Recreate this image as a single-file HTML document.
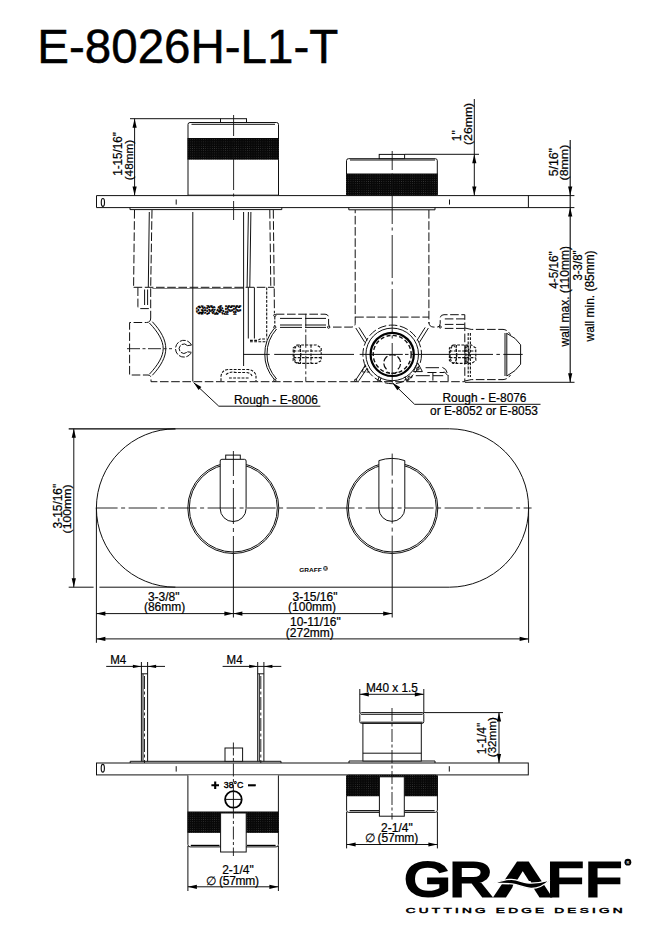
<!DOCTYPE html>
<html lang="en">
<head>
<meta charset="utf-8">
<title>E-8026H-L1-T</title>
<style>
html,body{margin:0;padding:0;background:#fff;}
body{width:657px;height:943px;overflow:hidden;font-family:"Liberation Sans",sans-serif;}
svg{display:block;}
.l{stroke:#111;stroke-width:1;fill:none;}
.k{stroke:#000;stroke-width:1.2;fill:none;}
.w{stroke:#111;stroke-width:1;fill:#fff;}
.d{stroke:#111;stroke-width:1;fill:none;stroke-dasharray:8.6 2.6;}
.ds{stroke:#111;stroke-width:1.1;fill:none;stroke-dasharray:2.8 1.4;}
.c{stroke:#111;stroke-width:.9;fill:none;stroke-dasharray:13 2.5 3 2.5;}
.b{fill:url(#kn);stroke:none;}
.ar{fill:#000;stroke:none;}
.t{font-family:"Liberation Sans",sans-serif;fill:#000;stroke:#000;stroke-width:.22;}
.dl{stroke:#111;stroke-width:1;fill:none;stroke-dasharray:22 3;}
.c2{stroke:#111;stroke-width:.9;fill:none;stroke-dasharray:28.5 3.5 4 3.5;}
.c3{stroke:#111;stroke-width:.9;fill:none;stroke-dasharray:43 3.5 3 4.5;}
.tb{font-family:"Liberation Sans",sans-serif;fill:#000;font-weight:bold;}
</style>
</head>
<body>
<svg width="657" height="943" viewBox="0 0 657 943">
<defs><pattern id="kn" width="2.2" height="2.2" patternUnits="userSpaceOnUse"><rect width="2.2" height="2.2" fill="#080808"/><circle cx="1.1" cy="1.1" r=".38" fill="#444"/></pattern></defs>
<rect x="0" y="0" width="657" height="943" fill="#fff"/>
<!-- title -->
<text class="t" font-size="48.4" text-anchor="start" x="37.3" y="62.9" textLength="301" lengthAdjust="spacingAndGlyphs" style="stroke-width:.5">E-8026H-L1-T</text>
<!-- side elevation with rough-in valves -->
<g id="elevation">
<path class="w" d="M574.4 195.6H96.5V207.6H574.4"/>
<line class="l" x1="528.4" y1="195.6" x2="528.4" y2="207.6" />
<ellipse class="l" cx="102.9" cy="202.4" rx="1.6" ry="3.9" style="stroke-width:1.15"/>
<line class="l" x1="176.2" y1="199.5" x2="176.2" y2="204.6" />
<line class="l" x1="449.5" y1="199.5" x2="449.5" y2="204.6" />
<path class="w" d="M188 195.2V124.5Q188 122.5 190 122.5H276.5Q278.5 122.5 278.5 124.5V195.2Z"/>
<line class="l" x1="191.5" y1="124.3" x2="275" y2="124.3" />
<rect class="b" x="187.5" y="138" width="91.5" height="21.7"/>
<rect class="w" x="220.5" y="118.7" width="26" height="3.8"/>
<line class="l" x1="130" y1="118.7" x2="220.5" y2="118.7" />
<line class="l" x1="134.6" y1="118.7" x2="134.6" y2="195.6" />
<polygon class="ar" points="134.60,118.70 132.50,127.70 136.70,127.70"/>
<polygon class="ar" points="134.60,195.60 132.50,186.60 136.70,186.60"/>
<text class="t" font-size="12" text-anchor="start" transform="translate(121.7 175.8) rotate(-90)" textLength="43.6" lengthAdjust="spacingAndGlyphs">1-15/16"</text>
<text class="t" font-size="11.2" text-anchor="start" transform="translate(132.5 180.3) rotate(-90)" textLength="40.4" lengthAdjust="spacingAndGlyphs">(48mm)</text>
<line class="c3" x1="233.6" y1="115" x2="233.6" y2="220" stroke-dashoffset="22"/>
<path class="w" d="M346.5 195.2V160.7Q346.5 158.7 348.5 158.7H435.3Q437.3 158.7 437.3 160.7V195.2Z"/>
<path class="b" d="M346.1 173.5H437.7V193.2Q437.7 195.4 435.7 195.4H348.1Q346.1 195.4 346.1 193.2Z"/>
<line class="l" x1="350" y1="160" x2="435" y2="160" />
<rect class="w" x="379.2" y="154.4" width="25.4" height="4.2"/>
<line class="l" x1="405" y1="154.3" x2="479" y2="154.3" />
<line class="l" x1="474.3" y1="99" x2="474.3" y2="195.6" />
<polygon class="ar" points="474.30,154.30 472.20,163.30 476.40,163.30"/>
<polygon class="ar" points="474.30,195.60 472.20,186.60 476.40,186.60"/>
<text class="t" font-size="12" text-anchor="start" transform="translate(461.4 141.2) rotate(-90)" >1"</text>
<text class="t" font-size="11.2" text-anchor="start" transform="translate(471.7 145) rotate(-90)" textLength="42.2" lengthAdjust="spacingAndGlyphs">(26mm)</text>
<line class="l" x1="570.2" y1="140" x2="570.2" y2="382.3" style="stroke-width:1.15"/>
<polygon class="ar" points="570.20,195.60 568.10,186.60 572.30,186.60"/>
<polygon class="ar" points="570.20,207.60 568.10,216.60 572.30,216.60"/>
<polygon class="ar" points="570.20,382.30 568.10,373.30 572.30,373.30"/>
<text class="t" font-size="12" text-anchor="start" transform="translate(557.8 176.3) rotate(-90)" textLength="28.2" lengthAdjust="spacingAndGlyphs">5/16"</text>
<text class="t" font-size="11.2" text-anchor="start" transform="translate(567.7 180.5) rotate(-90)" textLength="35.8" lengthAdjust="spacingAndGlyphs">(8mm)</text>
<text class="t" font-size="12" text-anchor="start" transform="translate(557.7 288.8) rotate(-90)" textLength="37.6" lengthAdjust="spacingAndGlyphs">4-5/16"</text>
<text class="t" font-size="12" text-anchor="start" transform="translate(569.0 346.4) rotate(-90)" textLength="100.3" lengthAdjust="spacingAndGlyphs">wall max. (110mm)</text>
<text class="t" font-size="12" text-anchor="start" transform="translate(581.7 280.6) rotate(-90)" textLength="30.2" lengthAdjust="spacingAndGlyphs">3-3/8"</text>
<text class="t" font-size="12" text-anchor="start" transform="translate(593.7 341.4) rotate(-90)" textLength="91" lengthAdjust="spacingAndGlyphs">wall min. (85mm)</text>
<line class="l" x1="465" y1="382.3" x2="574.5" y2="382.3" />
<line class="l" x1="130" y1="209.6" x2="281.8" y2="209.6" />
<line class="l" x1="130" y1="207.6" x2="130" y2="209.6" />
<line class="l" x1="281.8" y1="207.6" x2="281.8" y2="209.6" />
<line class="l" x1="348.8" y1="209.8" x2="435" y2="209.8" />
<line class="l" x1="348.8" y1="207.6" x2="348.8" y2="209.8" />
<line class="l" x1="435" y1="207.6" x2="435" y2="209.8" />
<line class="d" x1="134.5" y1="210" x2="133.6" y2="287.3" />
<path class="d" d="M152 210L150.7 287.3V318"/>
<line class="d" x1="269.8" y1="210" x2="270.8" y2="287.3" />
<path class="d" d="M273.3 210L274.2 287.3L274.4 313.2"/>
<line class="d" x1="133.6" y1="287.3" x2="274.2" y2="287.3" />
<line class="l" x1="152.4" y1="288.5" x2="243.4" y2="288.5" style="stroke-width:.7;stroke:#444"/>
<line class="l" x1="149.3" y1="212" x2="148.3" y2="287" />
<line class="l" x1="192.8" y1="212" x2="192.8" y2="381.5" />
<line class="l" x1="243.6" y1="212" x2="243.6" y2="366" />
<line class="l" x1="248.4" y1="212" x2="247.1" y2="287" />
<line class="l" x1="250.9" y1="212" x2="249.8" y2="287" />
<line class="l" x1="248.3" y1="287.4" x2="248.3" y2="338.5" />
<line class="l" x1="254.4" y1="287.4" x2="254.4" y2="338.5" />
<line class="ds" x1="266.7" y1="287.4" x2="266.7" y2="338" />
<path class="ds" d="M250 340.4H258L260 339H267.4"/>
<path class="ds" d="M250 341.8H267"/>
<path class="d" d="M137.9 287.4V306.6Q137.9 308.6 139.9 308.6H150.6"/>
<line class="l" x1="144.6" y1="289.5" x2="144.6" y2="305" />
<line class="l" x1="147.6" y1="289.5" x2="147.6" y2="305" />
<path class="d" d="M150.7 318Q150.7 322.5 146.5 322.5H129.6V375H148Q151 375 151 378.5V381.7H465"/>
<path class="l" d="M152.3 321.7C161 331 165.8 340 165.8 348.6C165.8 357 161 366 152.3 375.3"/>
<path class="l" d="M149.4 323C158 332 163.2 340.5 163.2 348.6C163.2 356.5 158 365 149.4 374.2"/>
<line class="c" x1="127" y1="348.7" x2="172" y2="348.7" />
<path class="d" d="M191.5 345.1A8.4 8.4 0 1 0 191.5 352.3" style="stroke-dasharray:6 1.6"/>
<path class="d" d="M187.4 345.6A4.7 4.7 0 1 0 187.4 351.8" style="stroke-dasharray:6 1.6"/>
<path class="l" d="M191.5 345.1L187.4 345.6M191.5 352.3L187.4 351.8"/>
<text x="196" y="314.4" font-size="11.5" font-weight="bold" textLength="45" lengthAdjust="spacingAndGlyphs" style="font-family:'Liberation Sans',sans-serif;fill:none;stroke:#000;stroke-width:1.3;stroke-dasharray:2.2 .7">GRAFF</text>
<path class="ds" d="M221 381V376Q222 370 228 369.5H248Q254 370 256 375V381"/>
<path class="ds" d="M226 374.5Q230 371 236 372.5H246Q251 373 252 376"/>
<path class="ds" d="M229 378H250"/>
<path class="d" d="M275.8 314.2H325Q328.6 314.2 328.6 318V324Q328.6 327.1 332 327.1H351Q355.2 327.1 355.2 323.5V210"/>
<path class="dl" d="M280 318.4H326"/><path class="dl" d="M280 325H326"/><path class="dl" d="M280 327.4H326"/>
<circle class="l" cx="274.8" cy="315.4" r="1.1"/>
<circle class="l" cx="274.8" cy="327.2" r="1.1"/>
<circle class="l" cx="328.6" cy="327.2" r="1.1"/>
<circle class="l" cx="274.8" cy="380.3" r="1.1"/>
<circle class="l" cx="355.6" cy="380.3" r="1.1"/>
<line class="ds" x1="274.8" y1="316.6" x2="274.8" y2="326" />
<path class="l" d="M274.2 328.4Q264.6 340 264.8 354.3Q264.6 368 274.2 379.4"/>
<path class="l" d="M276.6 329Q266.8 340 267 354.3Q266.8 368 276.6 379"/>
<line class="c" x1="305.8" y1="313.8" x2="305.8" y2="381.4" />
<path class="l" d="M243.4 354.4H269.7M274.2 354.4H354M359.7 354.4H402.8M405 354.4H408.5M410.8 354.4H493M496.4 354.4H499.9M503.3 354.4H522.7"/>
<path class="ds" d="M297 345H316.5L321.2 348V360.6L316.5 363.4H297L293.2 360.6V348Z"/>
<path class="ds" d="M293.5 351H321M293.5 357.6H321M300.5 345V363.4M311 345V363.4"/>
<ellipse class="ds" cx="297.4" cy="354.3" rx="3.4" ry="8.6"/>
<line class="d" x1="428.9" y1="210" x2="428.9" y2="323.5" />
<line class="d" x1="355.2" y1="317.1" x2="428.9" y2="317.1" />
<line class="c3" x1="392.2" y1="151" x2="392.2" y2="382.3" stroke-dashoffset="24"/>
<circle class="d" cx="392.2" cy="354.4" r="29.3"/>
<circle class="l" cx="392.2" cy="354.4" r="26.3"/>
<circle cx="392.2" cy="354.4" r="21.6" fill="none" stroke="#000" stroke-width="2.2"/>
<circle cx="392.2" cy="354.4" r="19" fill="none" stroke="#111" stroke-width="1.4" stroke-dasharray="4 2.4"/>
<path class="d" d="M386.5 369.3A8.4 8.4 0 1 1 397.9 369.3" style="stroke-width:1.25;stroke-dasharray:6.5 2"/>
<path class="ds" d="M387 372Q392.2 374.5 397.4 372"/>
<path class="l" d="M355.8 328L364.8 342.4"/>
<path class="l" d="M359.0 327.4L367.2 340.4"/>
<path class="l" d="M428.4 328L419.4 342.4"/>
<path class="l" d="M425.2 327.4L417.0 340.4"/>
<path class="l" d="M355.6 380.2L364.8 366.2"/>
<path class="l" d="M358.8 380.8L367.2 368.2"/>
<path class="ds" d="M404.4 380.4L411 374.6M407.2 381L412.8 376.2"/>
<path class="l" d="M377.6 381.4L379.2 376.4M380 381.4L381 377.6M406.6 381.4L405.2 376.6"/>
<path class="d" d="M428.9 322Q428.9 327.1 434 327.1H437Q440.2 327.1 440.2 323.5V318.5Q440.2 314.7 444 314.7H464.8V381.4"/>
<path class="d" d="M444.8 318.9H464.6"/><path class="d" d="M444.8 324.4H464.6"/><path class="d" d="M444.8 328.4H464.6"/>
<circle class="l" cx="440.2" cy="327" r="1.1"/>
<path class="d" d="M464.8 328L471.2 329.4H503Q507.6 329.6 510.5 334.8"/>
<path class="d" d="M464.8 381L471.2 379.6H503Q507.6 379.4 510.5 375"/>
<path class="l" d="M506.8 333.4L515 338.4L520.6 344.8V364.2L515 370.6L506.8 376"/>
<line class="l" x1="505" y1="333" x2="505" y2="376" />
<line class="l" x1="506.8" y1="333" x2="506.8" y2="376" />
<line class="ds" x1="468.2" y1="333" x2="468.2" y2="377" />
<line class="ds" x1="470.4" y1="333" x2="470.4" y2="377" />
<path class="ds" d="M453 345H471.5L475.8 348V360.6L471.5 363.4H453L449.4 360.6V348Z"/>
<path class="ds" d="M449.6 351H475.6M449.6 357.6H475.6M456.4 345V363.4M466 345V363.4"/>
<ellipse class="ds" cx="453.4" cy="354.3" rx="3.4" ry="8.6"/>
<ellipse cx="467" cy="354.3" rx="2" ry="8.6" fill="none" stroke="#111" stroke-width="1.6" stroke-dasharray="2 1.4"/>
<path class="l" d="M417.7 362.8L413.4 371.6H422.4Z"/><circle class="l" cx="417.8" cy="368.7" r="1.4"/>
<path class="l" d="M425.6 367.7H439M427.4 372.5H436.5M439.6 372.5H444.5M415.8 375.7H429.8M432.9 375.7H443.2"/>
<path class="l" d="M432.9 373V380.6M448.1 375V381.2"/>
<path class="l" d="M442.4 367.4Q446.6 368.8 447.2 373M444.2 371.6L447.6 375.4"/>
<path class="ds" d="M365.2 365.4L361.6 372H369Z"/>
<path class="l" d="M193.6 382.6L218.8 406.2H320.4"/>
<polygon class="ar" points="193.6,382.6 201.4,386.9 198.6,389.9"/>
<text class="t" font-size="12" text-anchor="start" x="234" y="403.6" textLength="84" lengthAdjust="spacingAndGlyphs">Rough - E-8006</text>
<path class="l" d="M392.4 382.8L414.6 404.3H540.5"/>
<polygon class="ar" points="392.4,382.8 400.2,387.3 397.3,390.2"/>
<text class="t" font-size="12" text-anchor="start" x="442.5" y="402.4" textLength="84" lengthAdjust="spacingAndGlyphs">Rough - E-8076</text>
<text class="t" font-size="12" text-anchor="start" x="430" y="415.4" textLength="108" lengthAdjust="spacingAndGlyphs">or E-8052 or E-8053</text>
</g>
<!-- front view -->
<g id="front">
<path class="l" d="M175.60000000000002 428.8H449.4A79.20000000000002 79.20000000000002 0 0 1 449.4 587.2H175.60000000000002A79.20000000000002 79.20000000000002 0 0 1 175.60000000000002 428.8Z"/>
<line class="k" x1="68.7" y1="428.8" x2="175.60000000000002" y2="428.8" />
<line class="l" x1="68.7" y1="587.2" x2="93.6" y2="587.2" />
<line class="l" x1="99.4" y1="587.2" x2="175.60000000000002" y2="587.2" />
<line class="l" x1="73.8" y1="428.8" x2="73.8" y2="587.2" />
<polygon class="ar" points="73.80,428.80 71.70,437.80 75.90,437.80"/>
<polygon class="ar" points="73.80,587.20 71.70,578.20 75.90,578.20"/>
<text class="t" font-size="12" text-anchor="start" transform="translate(61.5 528.4) rotate(-90)" textLength="44.6" lengthAdjust="spacingAndGlyphs">3-15/16"</text>
<text class="t" font-size="11" text-anchor="start" transform="translate(71.4 533.4) rotate(-90)" textLength="49" lengthAdjust="spacingAndGlyphs">(100mm)</text>
<circle class="l" cx="233.3" cy="508.0" r="45.5"/>
<circle class="l" cx="233.3" cy="508.0" r="44"/>
<circle class="l" cx="392.3" cy="508.0" r="45.5"/>
<circle class="l" cx="392.3" cy="508.0" r="44"/>
<rect class="w" x="225.7" y="455.1" width="14.6" height="4.4"/>
<path class="w" d="M220.2 461Q220.2 459.3 221.9 459.3H244.4Q246.1 459.3 246.1 461V508.6A12.95 12.95 0 0 1 220.2 508.6Z"/>
<path class="w" d="M378.9 460.6Q391.9 456.2 404.8 460.6V508.4A12.95 12.95 0 0 1 378.9 508.4Z"/>
<line class="c2" x1="95.80000000000001" y1="508.0" x2="531.6" y2="508.0" stroke-dashoffset="6.7"/>
<line class="c2" x1="233.4" y1="451" x2="233.4" y2="553.6" style="stroke-dasharray:36 4 4 4" stroke-dashoffset="11"/>
<line class="c2" x1="392.2" y1="453.6" x2="392.2" y2="553.6" style="stroke-dasharray:36 4 4 4" stroke-dashoffset="14"/>
<line class="l" x1="233.4" y1="553.6" x2="233.4" y2="617.5" />
<line class="l" x1="392.2" y1="553.6" x2="392.2" y2="617.5" />
<line class="l" x1="96.4" y1="508.0" x2="96.4" y2="642.8" />
<line class="l" x1="528.6" y1="508.0" x2="528.6" y2="642.8" />
<line class="l" x1="96.4" y1="613.6" x2="392.2" y2="613.6" />
<line class="l" x1="96.4" y1="638.9" x2="528.6" y2="638.9" />
<polygon class="ar" points="96.40,613.60 105.40,611.50 105.40,615.70"/>
<polygon class="ar" points="233.40,613.60 224.40,611.50 224.40,615.70"/>
<polygon class="ar" points="233.40,613.60 242.40,611.50 242.40,615.70"/>
<polygon class="ar" points="392.20,613.60 383.20,611.50 383.20,615.70"/>
<polygon class="ar" points="96.40,638.90 105.40,636.80 105.40,641.00"/>
<polygon class="ar" points="528.60,638.90 519.60,636.80 519.60,641.00"/>
<text class="t" font-size="12" text-anchor="middle" x="163.7" y="601" >3-3/8"</text>
<text class="t" font-size="12" text-anchor="middle" x="164.6" y="611" >(86mm)</text>
<text class="t" font-size="12" text-anchor="middle" x="315" y="601" >3-15/16"</text>
<text class="t" font-size="12" text-anchor="middle" x="312.1" y="611" >(100mm)</text>
<text class="t" font-size="12" text-anchor="middle" x="315.4" y="626" >10-11/16"</text>
<text class="t" font-size="12" text-anchor="middle" x="309.8" y="637" >(272mm)</text>
<text class="tb" font-size="5.4" text-anchor="start" x="299.2" y="572" textLength="22.5" lengthAdjust="spacingAndGlyphs">GRAFF</text>
<circle cx="325.5" cy="568.4" r="2.3" fill="#333"/>
<text class="tb" font-size="3.2" text-anchor="middle" x="325.5" y="569.6" style="fill:#fff">R</text>
</g>
<!-- plan view from below -->
<g id="plan">
<text class="t" font-size="12" text-anchor="start" x="110.2" y="663.7" textLength="16" lengthAdjust="spacingAndGlyphs">M4</text>
<line class="l" x1="106.2" y1="666.4" x2="165.0" y2="666.4" />
<polygon class="ar" points="141.40,666.40 132.90,664.70 132.90,668.10"/>
<polygon class="ar" points="147.60,666.40 156.10,664.70 156.10,668.10"/>
<line class="l" x1="141.4" y1="662" x2="141.4" y2="761.4" />
<line class="l" x1="147.6" y1="662" x2="147.6" y2="761.4" />
<line class="l" x1="143.0" y1="673.8" x2="143.0" y2="761.4" />
<line class="l" x1="141.4" y1="673.8" x2="147.6" y2="673.8" />
<line class="c" x1="144.5" y1="676" x2="144.5" y2="768" />
<text class="t" font-size="12" text-anchor="start" x="226.6" y="663.7" textLength="16" lengthAdjust="spacingAndGlyphs">M4</text>
<line class="l" x1="222.6" y1="666.4" x2="281.3" y2="666.4" />
<polygon class="ar" points="257.70,666.40 249.20,664.70 249.20,668.10"/>
<polygon class="ar" points="263.90,666.40 272.40,664.70 272.40,668.10"/>
<line class="l" x1="257.7" y1="662" x2="257.7" y2="761.4" />
<line class="l" x1="263.90000000000003" y1="662" x2="263.90000000000003" y2="761.4" />
<line class="l" x1="259.3" y1="673.8" x2="259.3" y2="761.4" />
<line class="l" x1="257.7" y1="673.8" x2="263.90000000000003" y2="673.8" />
<line class="c" x1="260.8" y1="676" x2="260.8" y2="768" />
<path class="l" d="M130.2 763V761.3H281V763"/>
<path class="l" d="M349 763V761H435V763"/>
<rect class="w" x="96.5" y="763.0" width="431.79999999999995" height="11.899999999999977"/>
<ellipse class="l" cx="102.8" cy="768.2" rx="1.6" ry="3.9" style="stroke-width:1.15"/>
<line class="l" x1="176.2" y1="766.2" x2="176.2" y2="771.6" />
<line class="l" x1="449.3" y1="766.2" x2="449.3" y2="771.6" />
<rect class="w" x="225" y="748" width="17.6" height="13.3"/>
<path class="w" d="M187.9 775.4V844.6Q187.9 846.9 190.2 846.9H276.1Q278.4 846.9 278.4 844.6V775.4"/>
<rect class="b" x="187.5" y="811.5" width="91.3" height="21.4"/>
<line class="k" x1="190.8" y1="845.4" x2="219.5" y2="845.4" />
<line class="k" x1="247" y1="845.4" x2="275.6" y2="845.4" />
<rect class="w" x="220.6" y="813" width="25.6" height="39"/>
<line class="c" x1="233.4" y1="742.5" x2="233.4" y2="856" />
<circle cx="233.4" cy="799.4" r="8.3" fill="#fff" stroke="#000" stroke-width="1.8"/>
<line class="l" x1="225" y1="799.4" x2="241.8" y2="799.4" />
<line class="l" x1="233.4" y1="791" x2="233.4" y2="808" />
<text class="t" font-size="9.2" text-anchor="start" x="223.8" y="788.4" textLength="19.6" lengthAdjust="spacingAndGlyphs" style="stroke-width:.4">38°C</text>
<path d="M211.4 785.2H219M215.2 781.4V789" stroke="#000" stroke-width="2.1" fill="none"/>
<path d="M248 785.3H255.8" stroke="#000" stroke-width="2.1" fill="none"/>
<line class="l" x1="187.9" y1="846" x2="187.9" y2="891" />
<line class="l" x1="278.4" y1="846" x2="278.4" y2="891" />
<line class="l" x1="187.9" y1="886.8" x2="278.4" y2="886.8" />
<polygon class="ar" points="187.90,886.80 196.90,884.70 196.90,888.90"/>
<polygon class="ar" points="278.40,886.80 269.40,884.70 269.40,888.90"/>
<text class="t" font-size="12" text-anchor="middle" x="238" y="874.3" >2-1/4"</text>
<text class="t" font-size="12" text-anchor="start" x="206.2" y="885" textLength="52.8" lengthAdjust="spacing">∅ (57mm)</text>
<text class="t" font-size="12" text-anchor="start" x="366" y="692" textLength="51.8" lengthAdjust="spacingAndGlyphs">M40 x 1.5</text>
<line class="l" x1="359.8" y1="694.3" x2="423.8" y2="694.3" />
<polygon class="ar" points="359.80,694.30 368.80,692.20 368.80,696.40"/>
<polygon class="ar" points="423.80,694.30 414.80,692.20 414.80,696.40"/>
<line class="l" x1="359.8" y1="689" x2="359.8" y2="713" />
<line class="l" x1="423.8" y1="689" x2="423.8" y2="713" />
<path class="w" d="M359.8 714.4Q359.8 712.6 361.6 712.6H422Q423.8 712.6 423.8 714.4V721.6Q423.8 723.4 422 723.4H361.6Q359.8 723.4 359.8 721.6Z"/>
<line class="l" x1="361" y1="714.3" x2="422.6" y2="714.3" />
<line class="l" x1="361" y1="722.2" x2="422.6" y2="722.2" />
<rect class="w" x="362.9" y="723.4" width="58.4" height="37.6"/>
<line class="l" x1="362.9" y1="753.2" x2="421.3" y2="753.2" />
<line class="l" x1="423.8" y1="712.6" x2="503" y2="712.6" />
<line class="l" x1="499" y1="712.6" x2="499" y2="763.0" />
<polygon class="ar" points="499.00,712.60 496.90,721.60 501.10,721.60"/>
<polygon class="ar" points="499.00,763.00 496.90,754.00 501.10,754.00"/>
<text class="t" font-size="12" text-anchor="start" transform="translate(486.3 754.3) rotate(-90)" textLength="31.6" lengthAdjust="spacingAndGlyphs">1-1/4"</text>
<text class="t" font-size="11.2" text-anchor="start" transform="translate(496.3 757.2) rotate(-90)" textLength="40" lengthAdjust="spacingAndGlyphs">(32mm)</text>
<path class="w" d="M346.6 775.4V810.2Q346.6 812.4 348.8 812.4H435.2Q437.4 812.4 437.4 810.2V775.4"/>
<path class="b" d="M346.2 796.2V777Q346.2 774.8 348.4 774.8H435.6Q437.8 774.8 437.8 777V796.2Z"/>
<line class="k" x1="349.6" y1="810.7" x2="379" y2="810.7" />
<line class="k" x1="404.6" y1="810.7" x2="434.6" y2="810.7" />
<rect class="w" x="379.4" y="776.8" width="24.9" height="39.4"/>
<line class="c" x1="392" y1="708" x2="392" y2="819.5" />
<line class="l" x1="346.6" y1="812" x2="346.6" y2="848.4" />
<line class="l" x1="437.4" y1="812" x2="437.4" y2="848.4" />
<line class="l" x1="346.6" y1="844.5" x2="437.4" y2="844.5" />
<polygon class="ar" points="346.60,844.50 355.60,842.40 355.60,846.60"/>
<polygon class="ar" points="437.40,844.50 428.40,842.40 428.40,846.60"/>
<text class="t" font-size="12" text-anchor="middle" x="396.9" y="832" >2-1/4"</text>
<text class="t" font-size="12" text-anchor="start" x="364.6" y="842" textLength="53.6" lengthAdjust="spacing">∅ (57mm)</text>
</g>
<!-- logo -->
<g id="logo" aria-label="GRAFF - CUTTING EDGE DESIGN">
<text class="t" font-size="47.2" transform="translate(403.6 895.5) scale(1.26 1)" y="0" style="stroke:#000;stroke-width:3;stroke-linejoin:miter"><tspan x="0.63">G</tspan><tspan x="36.51">R</tspan><tspan x="73.81" textLength="41.59" lengthAdjust="spacingAndGlyphs">A</tspan><tspan x="113.81">F</tspan><tspan x="144.13">F</tspan></text>
<path d="M511.6 889.8H534.4L530.5 881H514.5Z" fill="#fff"/>
<path d="M493.6 883.3C500 881 506 879.2 511.5 879.3C518 879.5 522 882.4 527 882.9C534 883.5 542 882.5 549.8 879.9C545 884.6 538 888.6 531 888.4C524 888.1 519 884.6 512 883.9C505 883.3 499 883.7 493.6 883.3Z" fill="#000" stroke="#fff" stroke-width="1.3"/>
<circle cx="627.9" cy="862.2" r="3.4" fill="#000"/>
<text class="tb" font-size="3.8" text-anchor="middle" x="627.9" y="863.6" style="fill:#ddd">R</text>
<text class="t" font-size="6.8" transform="translate(405.8 912.6) scale(2.0 1)" textLength="108.4" lengthAdjust="spacing" style="stroke-width:.45">CUTTING EDGE DESIGN</text>
</g>
</svg>
</body>
</html>
